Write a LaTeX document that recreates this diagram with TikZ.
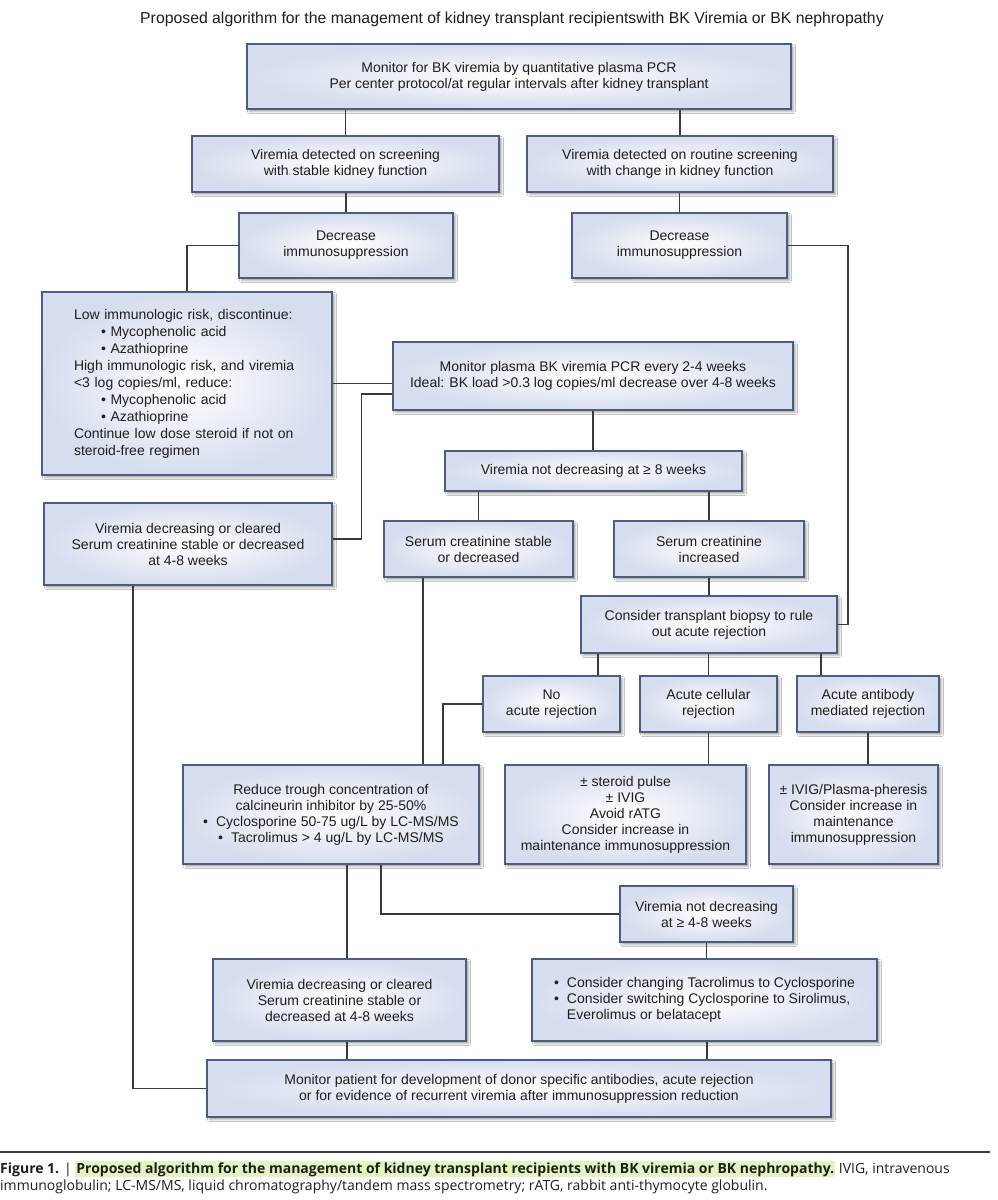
\documentclass[tikz,border=0pt]{standalone}
\usepackage{fontspec}
\setmainfont{Liberation Sans}
\newfontfamily\capfont{Open Sans}
\usetikzlibrary{shadows.blur}
\definecolor{boxline}{HTML}{4F5C7E}
\definecolor{boxfill}{HTML}{D6DDEE}
\definecolor{connc}{HTML}{3A3A3A}
\definecolor{txt}{HTML}{1E1E1E}
\definecolor{hl}{HTML}{E4F3C0}
\begin{document}
\begin{tikzpicture}[x=1pt,y=-1pt,
  box/.style={shade, inner color=white, outer color=boxfill, draw=boxline, line width=1.1pt,
    blur shadow={shadow xshift=2.5pt, shadow yshift=-2.5pt, shadow blur radius=2pt, shadow opacity=35},
    text=txt, align=center, font=\fontsize{14}{16}\selectfont, inner sep=0pt},
  link/.style={draw=connc, line width=1.3pt},
]
\fill[white] (0,0) rectangle (998,1200);
\useasboundingbox (0,0) rectangle (998,1200);

\node[text=txt, font=\fontsize{15.8}{18}\selectfont, inner sep=0pt] (title) at (512,19)
  {Proposed algorithm for the management of kidney transplant recipientswith BK Viremia or BK nephropathy};

\node[box, minimum width=544pt, minimum height=65pt] (A) at (519,76.5)
  {Monitor for BK viremia by quantitative plasma PCR\\Per center protocol/at regular intervals after kidney transplant};
\node[box, minimum width=307pt, minimum height=56pt] (B1) at (345.5,164)
  {Viremia detected on screening\\with stable kidney function};
\node[box, minimum width=306pt, minimum height=56pt] (B2) at (680,164)
  {Viremia detected on routine screening\\with change in kidney function};
\node[box, minimum width=214pt, minimum height=65pt] (C1) at (346,245.5)
  {Decrease\\immunosuppression};
\node[box, minimum width=215pt, minimum height=65pt] (C2) at (679.5,245.5)
  {Decrease\\immunosuppression};
\node[box, minimum width=290pt, minimum height=183pt, text width=226pt, align=left, font=\fontsize{14}{17}\selectfont] (D) at (187,383.5)
  {Low immunologic risk, discontinue:\\
   \hspace*{27pt}\textbullet\ Mycophenolic acid\\
   \hspace*{27pt}\textbullet\ Azathioprine\\
   High immunologic risk, and viremia\\
   {<}3 log copies/ml, reduce:\\
   \hspace*{27pt}\textbullet\ Mycophenolic acid\\
   \hspace*{27pt}\textbullet\ Azathioprine\\
   Continue low dose steroid if not on\\
   steroid-free regimen};
\node[box, minimum width=400pt, minimum height=68pt] (E) at (593,376)
  {Monitor plasma BK viremia PCR every 2-4 weeks\\Ideal: BK load {>}0.3 log copies/ml decrease over 4-8 weeks};
\node[box, minimum width=288pt, minimum height=82pt] (F) at (188,544)
  {Viremia decreasing or cleared\\Serum creatinine stable or decreased\\at 4-8 weeks};
\node[box, minimum width=297pt, minimum height=40pt] (G) at (593.5,471)
  {Viremia not decreasing at ≥ 8 weeks};
\node[box, minimum width=189pt, minimum height=56pt] (H1) at (478.5,549)
  {Serum creatinine stable\\or decreased};
\node[box, minimum width=190pt, minimum height=56pt] (H2) at (709,549)
  {Serum creatinine\\increased};
\node[box, minimum width=256pt, minimum height=57pt] (I) at (709,624.5)
  {Consider transplant biopsy to rule\\out acute rejection};
\node[box, minimum width=137pt, minimum height=56pt] (J1) at (551.5,704)
  {No\\acute rejection};
\node[box, minimum width=137pt, minimum height=56pt] (J2) at (708.5,704)
  {Acute cellular\\rejection};
\node[box, minimum width=142pt, minimum height=56pt] (J3) at (868,704)
  {Acute antibody\\mediated rejection};
\node[box, minimum width=296pt, minimum height=99pt] (K) at (331,814.5)
  {Reduce trough concentration of\\calcineurin inhibitor by 25-50\%\\
   \textbullet\hspace{8pt}Cyclosporine 50-75 ug/L by LC-MS/MS\\
   \textbullet\hspace{8pt}Tacrolimus {>} 4 ug/L by LC-MS/MS};
\node[box, minimum width=241pt, minimum height=99pt] (L1) at (625.5,814.5)
  {± steroid pulse\\± IVIG\\Avoid rATG\\Consider increase in\\maintenance immunosuppression};
\node[box, minimum width=169pt, minimum height=99pt] (L2) at (853.5,814.5)
  {± IVIG/Plasma-pheresis\\Consider increase in\\maintenance\\immunosuppression};
\node[box, minimum width=173pt, minimum height=56pt] (M) at (706.5,914)
  {Viremia not decreasing\\at ≥ 4-8 weeks};
\node[box, minimum width=253pt, minimum height=82pt] (L) at (339.5,1000)
  {Viremia decreasing or cleared\\Serum creatinine stable or\\decreased at 4-8 weeks};
\node[box, minimum width=345pt, minimum height=82pt, align=left] (N) at (704.5,1000)
  {\textbullet\hspace{8pt}Consider changing Tacrolimus to Cyclosporine\\
   \textbullet\hspace{8pt}Consider switching Cyclosporine to Sirolimus,\\
   \phantom{\textbullet}\hspace{8pt}Everolimus or belatacept};
\node[box, minimum width=624pt, minimum height=57pt] (O) at (519,1088.5)
  {Monitor patient for development of donor specific antibodies, acute rejection\\or for evidence of recurrent viremia after immunosuppression reduction};

% connectors
\coordinate (cR) at (848,0);
\draw[link] (B1.north) -- (B1.north |- A.south);
\draw[link] (B2.north) -- (B2.north |- A.south);
\draw[link] (C1.north) -- (C1.north |- B1.south);
\draw[link] (C2.north) -- (C2.north |- B2.south);
\draw[link] (C1.west) -| (D.north);
\draw[link] (C2.east) -- (C2.east -| cR) -- (I.east -| cR) -- (I.east);
\draw[link] (D.east) -- (D.east -| E.west);
\draw[link] ([yshift=-18pt]E.west) -| ([xshift=29pt,yshift=5pt]F.east) -- ([yshift=5pt]F.east);
\draw[link] (E.south) -- (E.south |- G.north);
\draw[link] (H1.north) -- (H1.north |- G.south);
\draw[link] (H2.north) -- (H2.north |- G.south);
\draw[link] (H2.south) -- (H2.south |- I.north);
\draw[link] ([xshift=46.5pt]J1.north) -- ([xshift=46.5pt]J1.north |- I.south);
\draw[link] (J2.north) -- (J2.north |- I.south);
\draw[link] ([xshift=-47pt]J3.north) -- ([xshift=-47pt]J3.north |- I.south);
\draw[link] (J1.west) -| ([xshift=112pt]K.north);
\draw[link] ([xshift=92pt]K.north) -- ([xshift=92pt]K.north |- H1.south);
\draw[link] (J2.south) -- (J2.south |- L1.north);
\draw[link] (J3.south) -- (J3.south |- L2.north);
\draw[link] ([xshift=16pt]K.south) -- ([xshift=16pt]K.south |- L.north);
\draw[link] ([xshift=50pt]K.south) |- (M.west);
\draw[link] (M.south) -- (M.south |- N.north);
\draw[link] ([xshift=2.5pt]N.south) -- ([xshift=2.5pt]N.south |- O.north);
\draw[link] ([xshift=7.5pt]L.south) -- ([xshift=7.5pt]L.south |- O.north);
\draw[link] ([xshift=-55pt]F.south) |- (O.west);

% caption
\draw[draw=connc, line width=1.2pt] (0,1152) -- (990,1152);
\node[anchor=base west, inner sep=0pt, text=txt, font=\capfont\fontsize{14}{17}\selectfont] (cap1) at (0,1173)
  {\textbf{Figure 1.} | {\setlength{\fboxsep}{1pt}\colorbox{hl}{\textbf{Proposed algorithm for the management of kidney transplant recipients with BK viremia or BK nephropathy.}}} IVIG, intravenous};
\node[anchor=base west, inner sep=0pt, text=txt, font=\capfont\fontsize{14}{17}\selectfont] (cap2) at (0,1190)
  {immunoglobulin; LC-MS/MS, liquid chromatography/tandem mass spectrometry; rATG, rabbit anti-thymocyte globulin.};
\end{tikzpicture}
\end{document}
